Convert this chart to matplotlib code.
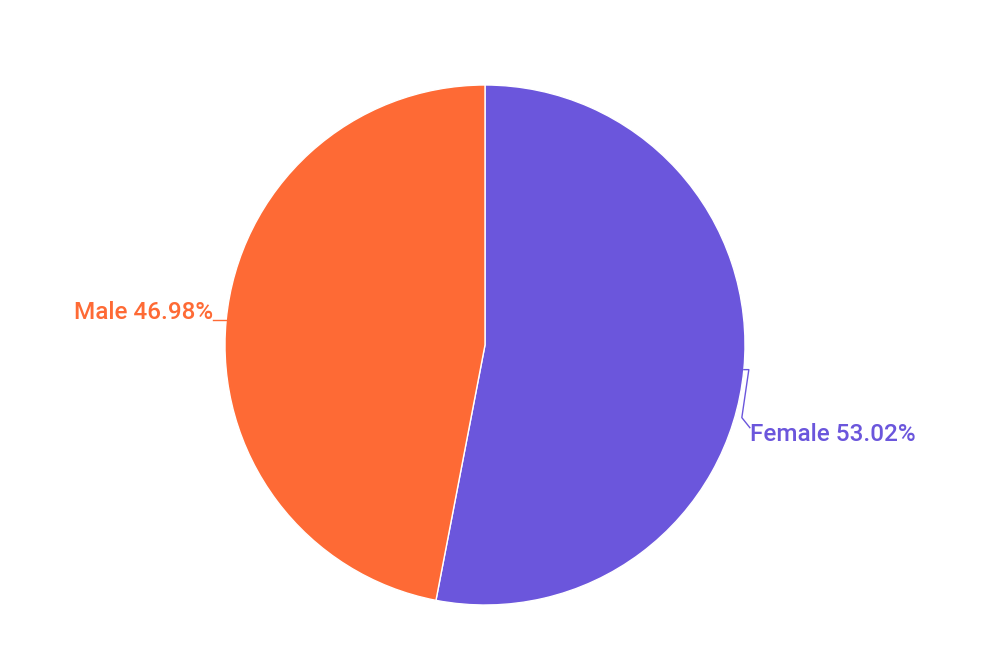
import numpy as np
import matplotlib
matplotlib.use("Agg")
import matplotlib.pyplot as plt

labels = ["Female", "Male"]
values = [53.02, 46.98]
colors = ["#6B56DC", "#FE6A35"]

W, H = 1000, 666
fig = plt.figure(figsize=(10, 6.66), dpi=100)
ax = fig.add_axes([0, 0, 1, 1])

cx, cy, r = 485, H - 345, 260
wedges, _ = ax.pie(values, colors=colors, startangle=90, counterclock=False,
                   center=(cx, cy), radius=r, frame=True,
                   wedgeprops=dict(edgecolor="white", linewidth=1))
ax.set_xlim(0, W)
ax.set_ylim(0, H)
ax.set_aspect("equal")
ax.axis("off")

font = dict(family=["Roboto", "DejaVu Sans"], fontsize=17.5, fontweight="medium")

for w, lab, v, c in zip(wedges, labels, values, colors):
    mid = np.deg2rad((w.theta1 + w.theta2) / 2)
    ex, ey = cx + r * np.cos(mid), cy + r * np.sin(mid)
    txt = f"{lab} {v:.2f}%"
    if np.cos(mid) < 0:
        tx, ty = ex - 13, ey
        ax.plot([ex, tx], [ey, ty], color=c, lw=1)
        ax.text(tx, ty + 8, txt, color=c, ha="right", va="center", **font)
    else:
        p = [(ex, ey), (ex + 5, ey), (ex - 2, ey - 48), (ex + 6, ey - 58)]
        xs, ys = zip(*p)
        ax.plot(xs, ys, color=c, lw=1)
        ax.text(ex + 6, ey - 65, txt, color=c, ha="left", va="center", **font)

fig.savefig("out.png", dpi=100, facecolor="white")
